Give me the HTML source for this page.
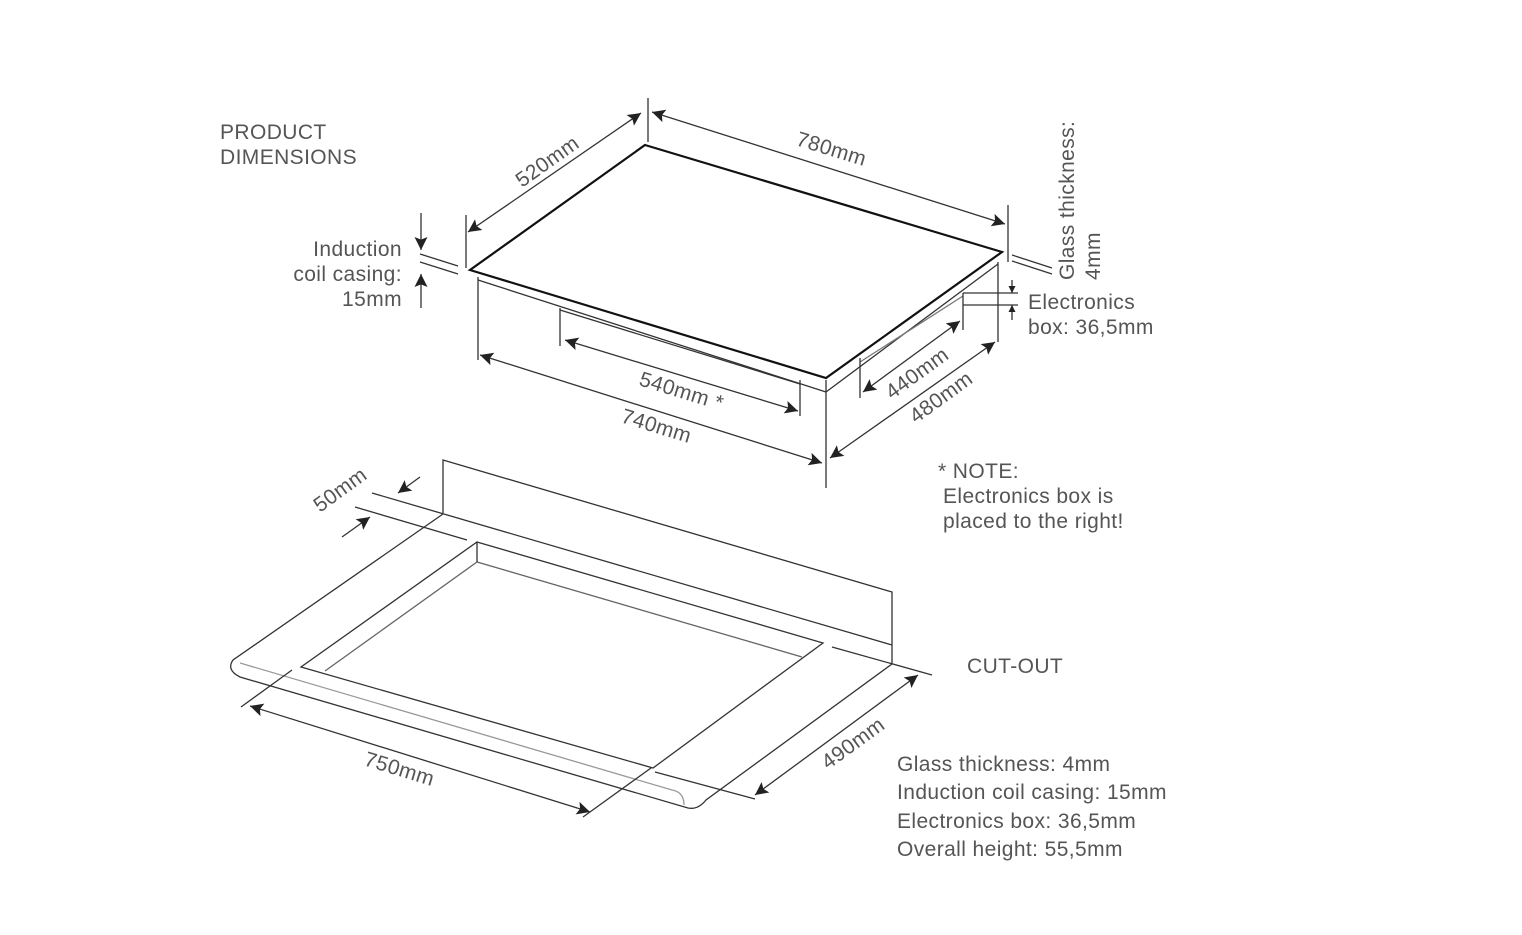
<!DOCTYPE html>
<html><head><meta charset="utf-8"><style>
html,body{margin:0;padding:0;background:#fff}
svg{display:block}
text{font-family:"Liberation Sans",sans-serif;font-size:21px;letter-spacing:0.4px;fill:#555}
</style></head><body>
<svg width="1522" height="935" viewBox="0 0 1522 935" xmlns="http://www.w3.org/2000/svg">
<defs>
<marker id="a" viewBox="0 0 10 10" refX="10" refY="5" markerWidth="15" markerHeight="13" orient="auto-start-reverse" markerUnits="userSpaceOnUse"><path d="M0,0 L10,5 L0,10 L2,5 z" fill="#222"/></marker>
<marker id="s" viewBox="0 0 10 10" refX="10" refY="5" markerWidth="7" markerHeight="7" orient="auto-start-reverse" markerUnits="userSpaceOnUse"><path d="M0,0 L10,5 L0,10 z" fill="#222"/></marker>
</defs>
<g stroke="#333" stroke-width="1.3" fill="none">
<polygon points="645,145 1002,252 826,378 470,270" stroke="#111" stroke-width="2.2"/>
<line x1="478" y1="280" x2="826" y2="392"/>
<line x1="826" y1="392" x2="998" y2="264"/>
<line x1="478" y1="277" x2="478" y2="360"/>
<line x1="826" y1="380" x2="826" y2="488"/>
<line x1="998" y1="262" x2="998" y2="342"/>
<line x1="560" y1="310" x2="800" y2="384"/>
<line x1="560" y1="308" x2="560" y2="346"/>
<line x1="800" y1="380" x2="800" y2="416"/>
<line x1="860" y1="362" x2="963" y2="296" stroke="#777"/>
<line x1="860" y1="358" x2="860" y2="398"/>
<line x1="963" y1="293" x2="963" y2="330"/>
<line x1="963" y1="293" x2="1018" y2="293"/>
<line x1="963" y1="305" x2="1018" y2="305"/>
<line x1="466" y1="215" x2="466" y2="268"/>
<line x1="648" y1="98" x2="648" y2="142"/>
<line x1="1008" y1="205" x2="1008" y2="262"/>
<line x1="420" y1="254" x2="458" y2="266"/>
<line x1="420" y1="262" x2="458" y2="274"/>
<line x1="1012" y1="255" x2="1052" y2="268"/>
<line x1="1012" y1="261" x2="1052" y2="274"/>
<line x1="468" y1="232" x2="641" y2="113" marker-start="url(#a)" marker-end="url(#a)"/>
<line x1="652" y1="112" x2="1005" y2="224" marker-start="url(#a)" marker-end="url(#a)"/>
<line x1="421" y1="213" x2="421" y2="250" marker-end="url(#a)"/>
<line x1="421" y1="308" x2="421" y2="274" marker-end="url(#a)"/>
<line x1="1012" y1="280" x2="1012" y2="293" marker-end="url(#s)"/>
<line x1="1012" y1="320" x2="1012" y2="305" marker-end="url(#s)"/>
<line x1="480" y1="355" x2="822" y2="463" marker-start="url(#a)" marker-end="url(#a)"/>
<line x1="565" y1="340" x2="798" y2="411" marker-start="url(#a)" marker-end="url(#a)"/>
<line x1="863" y1="392" x2="960" y2="321" marker-start="url(#a)" marker-end="url(#a)"/>
<line x1="830" y1="458" x2="995" y2="342" marker-start="url(#a)" marker-end="url(#a)"/>
<polyline points="443,513 443,460 892,592 892,664"/>
<line x1="372" y1="493" x2="892" y2="645"/>
<line x1="355" y1="507" x2="467" y2="540"/>
<path d="M443,514 L233,660 Q226,670 240,677 L688,808 Q698,810 706,800 L892,664"/>
<path d="M240,663 L672,790 Q684,792 684,805" stroke="#999"/>
<polygon points="477,542 823,643 653,768 301,667"/>
<polyline points="325,671 477,562 802,657" stroke="#666"/>
<line x1="477" y1="542" x2="477" y2="562"/>
<line x1="655" y1="772" x2="755" y2="799"/>
<line x1="832" y1="647" x2="932" y2="675"/>
<line x1="241" y1="707" x2="292" y2="670"/>
<line x1="583" y1="817" x2="651" y2="768"/>
<line x1="250" y1="706" x2="590" y2="812" marker-start="url(#a)" marker-end="url(#a)"/>
<line x1="755" y1="795" x2="918" y2="675" marker-start="url(#a)" marker-end="url(#a)"/>
<line x1="420" y1="477" x2="398" y2="493" marker-end="url(#a)"/>
<line x1="342" y1="537" x2="370" y2="517" marker-end="url(#a)"/>
</g>
<text x="220" y="139">PRODUCT</text>
<text x="220" y="164">DIMENSIONS</text>
<text x="402" y="256" text-anchor="end">Induction</text>
<text x="402" y="281" text-anchor="end">coil casing:</text>
<text x="402" y="306" text-anchor="end">15mm</text>
<text transform="translate(1074,280) rotate(-90)">Glass thickness:</text>
<text transform="translate(1100,280) rotate(-90)">4mm</text>
<text x="1028" y="309">Electronics</text>
<text x="1028" y="334">box: 36,5mm</text>
<text transform="translate(522,188) rotate(-35.5)">520mm</text>
<text transform="translate(795,145) rotate(17)">780mm</text>
<text transform="translate(638,385) rotate(17)">540mm *</text>
<text transform="translate(620,422) rotate(17)">740mm</text>
<text transform="translate(892,400) rotate(-36)">440mm</text>
<text transform="translate(916,424) rotate(-36)">480mm</text>
<text x="938" y="478">* NOTE:</text>
<text x="943" y="503">Electronics box is</text>
<text x="943" y="528">placed to the right!</text>
<text transform="translate(320,513) rotate(-36)">50mm</text>
<text x="967" y="673">CUT-OUT</text>
<text transform="translate(363,765) rotate(17)">750mm</text>
<text transform="translate(828,770) rotate(-36)">490mm</text>
<text x="897" y="771">Glass thickness: 4mm</text>
<text x="897" y="799">Induction coil casing: 15mm</text>
<text x="897" y="828">Electronics box: 36,5mm</text>
<text x="897" y="856">Overall height: 55,5mm</text>
</svg>
</body></html>
